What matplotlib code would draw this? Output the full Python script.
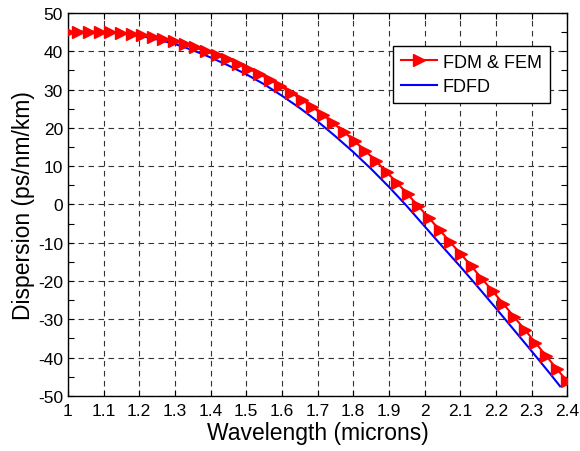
import matplotlib
matplotlib.use("Agg")
import matplotlib.pyplot as plt
from matplotlib.ticker import MultipleLocator

plt.rcParams['font.family'] = ['Liberation Sans', 'DejaVu Sans']
plt.rcParams['axes.unicode_minus'] = False

# FDM & FEM (markers), 48 samples from 1.0 to 2.4 microns
wl_fdm = [1.0000, 1.0298, 1.0596, 1.0894, 1.1191, 1.1489, 1.1787, 1.2085,
          1.2383, 1.2681, 1.2979, 1.3277, 1.3574, 1.3872, 1.4170, 1.4468,
          1.4766, 1.5064, 1.5362, 1.5660, 1.5957, 1.6255, 1.6553, 1.6851,
          1.7149, 1.7447, 1.7745, 1.8043, 1.8340, 1.8638, 1.8936, 1.9234,
          1.9532, 1.9830, 2.0128, 2.0426, 2.0723, 2.1021, 2.1319, 2.1617,
          2.1915, 2.2213, 2.2511, 2.2809, 2.3106, 2.3404, 2.3702, 2.4000]
d_fdm = [45.0, 45.1, 45.1, 45.1, 45.0, 44.8, 44.55, 44.3,
         43.8, 43.3, 42.65, 41.9, 41.0, 40.0, 39.0, 37.9,
         36.8, 35.5, 34.1, 32.6, 30.9, 29.2, 27.4, 25.5,
         23.4, 21.2, 18.9, 16.5, 14.0, 11.3, 8.5, 5.6,
         2.6, -0.5, -3.6, -6.7, -9.9, -13.0, -16.2, -19.5,
         -22.7, -26.0, -29.4, -32.7, -36.1, -39.5, -42.9, -46.2]

# FDFD (solid line)
wl_fdfd = [1.00, 1.05, 1.10, 1.15, 1.20, 1.25, 1.30, 1.35, 1.40, 1.45,
           1.50, 1.55, 1.60, 1.65, 1.70, 1.75, 1.80, 1.85, 1.90, 1.95,
           2.00, 2.05, 2.10, 2.15, 2.20, 2.25, 2.30, 2.35, 2.38]
d_fdfd = [45.0, 45.1, 45.0, 44.7, 44.1, 43.1, 41.9, 40.3, 38.4, 36.3,
          34.0, 31.4, 28.4, 25.2, 21.7, 17.8, 13.7, 9.3, 4.6, -0.4,
          -5.7, -11.0, -16.2, -21.6, -27.1, -32.7, -38.3, -44.0, -47.5]

fig = plt.figure(figsize=(5.8, 4.52), dpi=100)
ax = fig.add_axes([0.117, 0.122, 0.861, 0.847])

ax.plot(wl_fdm, d_fdm, color='red', lw=1.5, marker='>', markersize=8,
        label='FDM & FEM', zorder=3)
ax.plot(wl_fdfd, d_fdfd, color='blue', lw=1.5, label='FDFD', zorder=2)

ax.set_xlim(1, 2.4)
ax.set_ylim(-50, 50)
ax.xaxis.set_major_locator(MultipleLocator(0.1))
ax.yaxis.set_major_locator(MultipleLocator(10))
ax.yaxis.set_minor_locator(MultipleLocator(5))
ax.set_xticklabels([f'{v:g}' for v in ax.get_xticks()])

ax.grid(True, which='major', color='0.2', linestyle=(0, (5, 4)), linewidth=0.8)
ax.tick_params(which='both', direction='in', top=True, right=True,
               labelsize=12.5, length=4, width=0.8)
ax.tick_params(axis='x', pad=5)
for s in ax.spines.values():
    s.set_linewidth(1.0)

ax.set_xlabel('Wavelength (microns)', fontsize=16.5, labelpad=2)
ax.set_ylabel('Dispersion (ps/nm/km)', fontsize=16.5, labelpad=2)

leg = ax.legend(loc='upper right', bbox_to_anchor=(0.965, 0.915), fontsize=13,
                numpoints=1, handlelength=2.0, fancybox=False, framealpha=1,
                edgecolor='black', borderpad=0.45, labelspacing=0.4,
                handletextpad=0.3, borderaxespad=0)
leg.get_frame().set_linewidth(1.0)

plt.savefig('out.png', dpi=100)
plt.close()
